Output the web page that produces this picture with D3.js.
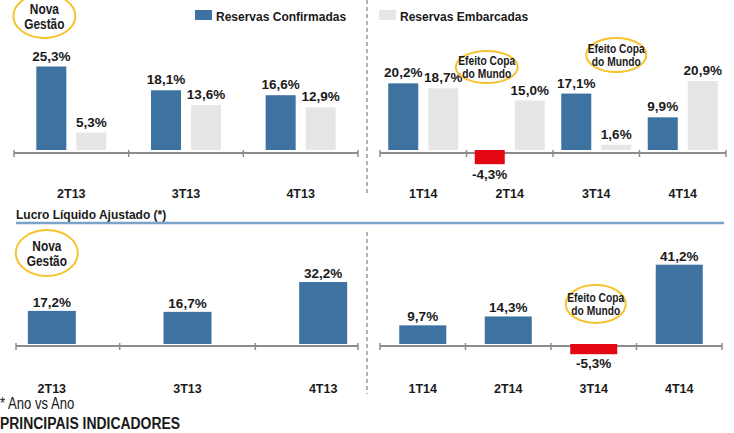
<!DOCTYPE html>
<html>
<head>
<meta charset="utf-8">
<script src="https://cdn.jsdelivr.net/npm/d3@7"></script>
<style>
  body { margin: 0; background: #fff; }
  svg { display: block; }
  text { font-family: "Liberation Sans", Arial, sans-serif; fill: #1a1a1a; }
</style>
</head>
<body>
<div id="chart"></div>
<script>
// periods
var periods13 = ["2T13", "3T13", "4T13"];
var periods14 = ["1T14", "2T14", "3T14", "4T14"];

// top panels (reservas, % ano vs ano)
var confirmadas13 = [25.3, 18.1, 16.6];
var embarcadas13 = [5.3, 13.6, 12.9];
var confirmadas14 = [20.2, -4.3, 17.1, 9.9];
var embarcadas14 = [18.7, 15.0, 1.6, 20.9];

// bottom panels (lucro liquido ajustado)
var lucro13 = [17.2, 16.7, 32.2];
var lucro14 = [9.7, 14.3, -5.3, 41.2];

var seriesNames = ["Reservas Confirmadas", "Reservas Embarcadas"];

var width = 734, height = 433;
var blue = "#3e72a0", grey = "#e6e6e6", red = "#e30613", ring = "#f6c22e";
var squeeze = 0.82; //no narrow font installed, so squash text horizontally

//pt-BR number format, plain hyphen for minus
var pt = d3.formatLocale({decimal: ",", thousands: ".", grouping: [3], currency: ["R$", ""], minus: "-"});
var fmt = function (v) { return pt.format(".1f")(v) + "%"; };

var svg = d3.select("#chart").append("svg")
    .attr("width", width)
    .attr("height", height);

//y scales for the two rows
var yTop = d3.scaleLinear().domain([0, 30]).range([150, 51]);
var yBot = d3.scaleLinear().domain([0, 40]).range([344, 267]);

//x scales for the four panels
var xTL = d3.scaleBand().domain(periods13).range([14, 358]);
var xTR = d3.scaleBand().domain(periods14).range([380, 726]);
var xBL = d3.scaleBand().domain(periods13).range([-16, 391]);
var xBR = d3.scaleBand().domain(periods14).range([380, 722]);

//pair of bars inside a group
var sub = d3.scaleBand().domain(seriesNames).range([0, 70]).paddingInner(0.25);

function narrowText(g, x, y, txt, size, bold, anchor) {
    return g.append("text")
        .attr("transform", "translate(" + x + "," + y + ") scale(" + squeeze + ",1)")
        .attr("text-anchor", anchor || "start")
        .attr("font-size", size)
        .attr("font-weight", bold ? "bold" : "normal")
        .text(txt);
}

function drawAxis(x, axisY, x0, x1, labelY) {
    var g = svg.append("g");
    g.append("line")
        .attr("x1", x0).attr("x2", x1)
        .attr("y1", axisY).attr("y2", axisY)
        .attr("stroke", "#8c8c8c").attr("stroke-width", 2);
    var ticks = [x0].concat(x.domain().slice(1).map(function (d) { return x(d); })).concat([x1]);
    g.selectAll(".tick").data(ticks).enter().append("line")
        .attr("x1", function (d) { return d; }).attr("x2", function (d) { return d; })
        .attr("y1", axisY - 3).attr("y2", axisY + 4)
        .attr("stroke", "#8c8c8c").attr("stroke-width", 1.5);
    g.selectAll(".cat").data(x.domain()).enter().append("text")
        .attr("x", function (d) { return x(d) + x.bandwidth() / 2; })
        .attr("y", labelY)
        .attr("text-anchor", "middle")
        .attr("font-size", 12.5)
        .attr("font-weight", "bold")
        .text(function (d) { return d; });
}

function drawBars(rows, y, barW, above, below) {
    //rows: [{x, v, color}]
    svg.append("g").selectAll("rect").data(rows).enter().append("rect")
        .attr("x", function (d) { return d.x; })
        .attr("y", function (d) { return Math.min(y(0), y(d.v)); })
        .attr("width", barW)
        .attr("height", function (d) { return Math.abs(y(d.v) - y(0)); })
        .attr("fill", function (d) { return d.v < 0 ? red : d.color; });
    svg.append("g").selectAll("text").data(rows).enter().append("text")
        .attr("x", function (d) { return d.x + barW / 2; })
        .attr("y", function (d) { return d.v < 0 ? y(d.v) + below : y(d.v) - above; })
        .attr("text-anchor", "middle")
        .attr("font-size", 13.5)
        .attr("font-weight", "bold")
        .text(function (d) { return fmt(d.v); });
}

function pairRows(x, periods, conf, emb) {
    var rows = [];
    periods.forEach(function (p, i) {
        var start = x(p) + x.bandwidth() / 2 - 35;
        rows.push({x: start + sub(seriesNames[0]), v: conf[i], color: blue});
        rows.push({x: start + sub(seriesNames[1]), v: emb[i], color: grey});
    });
    return rows;
}

function singleRows(x, periods, vals, w) {
    return periods.map(function (p, i) {
        return {x: x(p) + x.bandwidth() / 2 - w / 2, v: vals[i], color: blue};
    });
}

//top row
drawAxis(xTL, 153, 14, 358, 198);
drawAxis(xTR, 153, 380, 726, 198);
drawBars(pairRows(xTL, periods13, confirmadas13, embarcadas13), yTop, sub.bandwidth(), 6, 15);
drawBars(pairRows(xTR, periods14, confirmadas14, embarcadas14), yTop, sub.bandwidth(), 6, 15);

//bottom row
drawAxis(xBL, 346, 16, 358, 393);
drawAxis(xBR, 346, 380, 722, 393);
drawBars(singleRows(xBL, periods13, lucro13, 48), yBot, 48, 4, 14);
drawBars(singleRows(xBR, periods14, lucro14, 47), yBot, 47, 4, 14);

//legend
var legend = svg.append("g");
[[195, blue], [379, grey]].forEach(function (l, i) {
    legend.append("rect").attr("x", l[0]).attr("y", 10).attr("width", 17).attr("height", 10).attr("fill", l[1]);
    legend.append("text").attr("x", l[0] + 21).attr("y", 20.5)
        .attr("font-size", 12).attr("font-weight", "bold").text(seriesNames[i]);
});

//dashed divider
[[0, 194], [232, 394]].forEach(function (s) {
    svg.append("line")
        .attr("x1", 367).attr("x2", 367).attr("y1", s[0]).attr("y2", s[1])
        .attr("stroke", "#999").attr("stroke-width", 1.5).attr("stroke-dasharray", "4,3");
});

//section title
svg.append("text").attr("x", 16).attr("y", 219)
    .attr("font-size", 12).attr("font-weight", "bold").text("Lucro Líquido Ajustado (*)");
svg.append("line").attr("x1", 16).attr("x2", 724).attr("y1", 223).attr("y2", 223)
    .attr("stroke", "#7ba3c9").attr("stroke-width", 2.5);

//callout rings
function callout(cx, cy, rx, ry, lines, size) {
    var g = svg.append("g");
    g.append("ellipse").attr("cx", cx).attr("cy", cy).attr("rx", rx).attr("ry", ry)
        .attr("fill", "none").attr("stroke", ring).attr("stroke-width", 2);
    lines.forEach(function (d, i) {
        var ty = cy + (i - (lines.length - 1) / 2) * size * 1.05 + size * 0.36;
        narrowText(g, cx, ty, d, size, true, "middle");
    });
}
callout(xTL("2T13") + xTL.bandwidth() / 2 - 27, 16, 31, 22, ["Nova", "Gestão"], 14.5);
callout(xTR("2T14") + xTR.bandwidth() / 2 - 23, 67, 31, 16, ["Efeito Copa", "do Mundo"], 12.5);
callout(xTR("3T14") + xTR.bandwidth() / 2 + 20, 55, 30, 17, ["Efeito Copa", "do Mundo"], 12.5);
callout(xBL("2T13") + xBL.bandwidth() / 2 - 5, 253, 31, 23, ["Nova", "Gestão"], 14.5);
callout(xBR("3T14") + xBR.bandwidth() / 2 + 2, 304, 30, 19, ["Efeito Copa", "do Mundo"], 12.5);

//footer
narrowText(svg, 0, 409, "* Ano vs Ano", 16, false);
narrowText(svg, 0, 429, "PRINCIPAIS INDICADORES", 17, true);
</script>
</body>
</html>
